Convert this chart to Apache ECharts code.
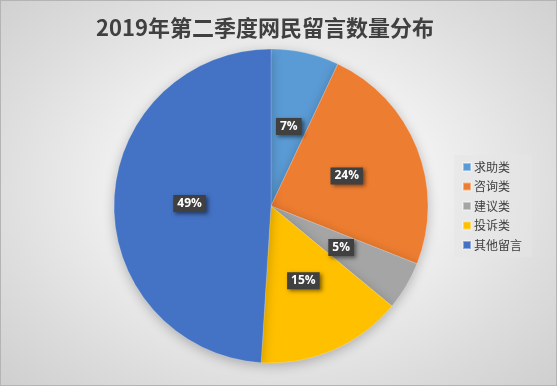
<!DOCTYPE html>
<html>
<head>
<meta charset="utf-8">
<script src="https://cdn.jsdelivr.net/npm/echarts@6/dist/echarts.min.js"></script>
<style>
html,body{margin:0;padding:0;width:557px;height:386px;overflow:hidden;}
#chart{width:555px;height:384px;border:1px solid #b4b4b4;
background:radial-gradient(ellipse 75% 80% at 50% 48%, #ffffff 0%, #f2f2f2 35%, #dcdcdc 70%, #cbcbcb 100%);}
</style>
</head>
<body>
<div id="chart"></div>
<script>
const titleText = '2019年第二季度网民留言数量分布';
const categories = ['求助类', '咨询类', '建议类', '投诉类', '其他留言'];
const values = [7, 24, 5, 15, 49];
const colors = ['#5B9BD5', '#ED7D31', '#A5A5A5', '#FFC000', '#4472C4'];

const chart = echarts.init(document.getElementById('chart'));
chart.setOption({
  animation: false,
  backgroundColor: 'transparent',
  color: colors,
  title: {
    text: titleText,
    left: 90,
    top: 11,
    textStyle: {
      fontFamily: '"Noto Sans CJK SC", sans-serif',
      fontSize: 22,
      fontWeight: 'bold',
      color: '#404040'
    }
  },
  legend: {
    orient: 'vertical',
    left: 453,
    top: 154,
    padding: [6, 10, 6, 8],
    backgroundColor: 'rgba(230,230,230,0.55)',
    itemWidth: 8,
    itemHeight: 8,
    itemGap: 7.5,
    icon: 'rect',
    textStyle: {
      fontFamily: '"Noto Sans CJK SC", sans-serif',
      fontSize: 12,
      color: '#404040',
      padding: [0, 0, 0, -2]
    },
    data: categories
  },
  series: [{
    type: 'pie',
    center: [270, 205],
    radius: [0, 157],
    startAngle: 90,
    clockwise: true,
    label: {
      show: true,
      position: 'inside',
      formatter: function (p) { return p.value + '%'; },
      color: '#ffffff',
      fontWeight: 'bold',
      fontSize: 12,
      fontFamily: '"Open Sans", sans-serif',
      backgroundColor: '#404040',
      padding: [3, 4, 2, 4],
      shadowColor: 'rgba(0,0,0,0.5)',
      shadowBlur: 4,
      shadowOffsetX: 2,
      shadowOffsetY: 2
    },
    labelLine: { show: false },
    itemStyle: {
      borderColor: 'rgba(255,255,255,0.4)',
      borderWidth: 0.5,
      shadowColor: 'rgba(0,0,0,0.25)',
      shadowBlur: 12,
      shadowOffsetY: 3
    },
    emphasis: { disabled: true },
    data: categories.map((c, i) => ({ name: c, value: values[i] }))
  }]
});
</script>
</body>
</html>
